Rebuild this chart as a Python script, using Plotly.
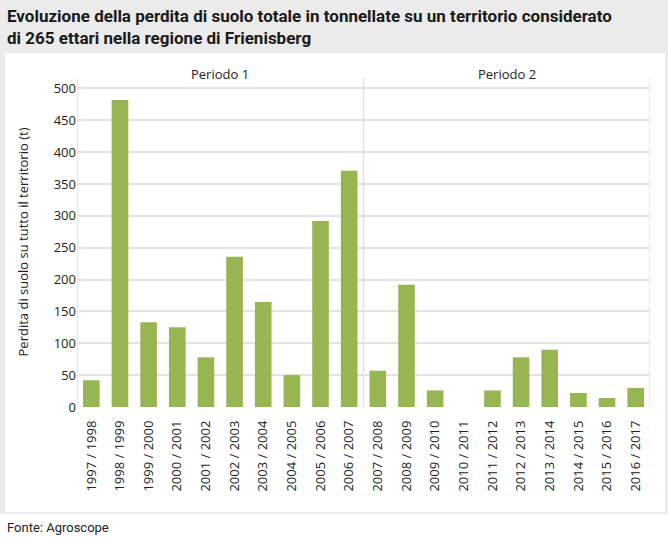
import plotly.graph_objects as go

categories = ["1997 / 1998", "1998 / 1999", "1999 / 2000", "2000 / 2001", "2001 / 2002",
              "2002 / 2003", "2003 / 2004", "2004 / 2005", "2005 / 2006", "2006 / 2007",
              "2007 / 2008", "2008 / 2009", "2009 / 2010", "2010 / 2011", "2011 / 2012",
              "2012 / 2013", "2013 / 2014", "2014 / 2015", "2015 / 2016", "2016 / 2017"]
values = [42, 482, 133, 125, 78, 236, 165, 50, 292, 371,
          57, 192, 26, 0, 26, 78, 90, 22, 14, 30]
period_labels = ["Periodo 1", "Periodo 2"]
y_ticks = [0, 50, 100, 150, 200, 250, 300, 350, 400, 450, 500]

W, H = 668, 541
L, R, T, B = 77, 650, 77, 407


def X(px):
    return (px - L) / (R - L)


def Y(py):
    return (B - py) / (B - T)


font_txt = "Open Sans, DejaVu Sans, sans-serif"
font_cond = "Liberation Sans Narrow, Roboto, Arial Narrow, sans-serif"
grey_line = "#e3e3e3"

fig = go.Figure()
fig.add_trace(go.Bar(x=categories, y=values, marker=dict(color="#97b550", line=dict(width=0)),
                     hoverinfo="x+y"))

shapes = [
    dict(type="rect", xref="paper", yref="paper", x0=X(0), x1=X(W), y0=Y(514), y1=Y(0),
         fillcolor="#ebebeb", line=dict(width=0), layer="below"),
    dict(type="rect", xref="paper", yref="paper", x0=X(5), x1=X(665), y0=Y(512), y1=Y(53),
         fillcolor="#ffffff", line=dict(width=0), layer="below"),
]
for xv in [-0.5, 9.5, 19.5]:
    shapes.append(dict(type="line", xref="x", yref="paper", x0=xv, x1=xv, y0=0, y1=Y(78),
                       line=dict(color=grey_line, width=1.5), layer="below"))

annotations = [
    dict(text="Evoluzione della perdita di suolo totale in tonnellate su un territorio considerato<br>"
              "di 265 ettari nella regione di Frienisberg",
         xref="paper", yref="paper", x=X(5), y=Y(4), xanchor="left", yanchor="top",
         showarrow=False, align="left",
         font=dict(family=font_cond, size=17, color="#1a1a1a", weight="bold")),
    dict(text="Fonte: Agroscope", xref="paper", yref="paper", x=X(5), y=Y(527),
         xanchor="left", yanchor="middle", showarrow=False,
         font=dict(family=font_cond, size=13, color="#222222")),
]
for i, lab in enumerate(period_labels):
    annotations.append(dict(text=lab, xref="x", yref="paper", x=4.5 + 10 * i, y=Y(74),
                            xanchor="center", yanchor="middle", showarrow=False,
                            font=dict(family=font_txt, size=13, color="#222222")))

fig.update_layout(
    width=W, height=H,
    margin=dict(l=L, r=W - R, t=T, b=H - B),
    paper_bgcolor="#ffffff", plot_bgcolor="rgba(0,0,0,0)",
    bargap=0.42, showlegend=False,
    shapes=shapes, annotations=annotations,
    xaxis=dict(type="category", range=[-0.5, 19.5], tickangle=-90, showgrid=False,
               showline=False, ticks="", ticklabelstandoff=10,
               tickfont=dict(family=font_txt, size=13, color="#222222")),
    yaxis=dict(range=[0, 518], tickvals=y_ticks, showgrid=True, gridcolor=grey_line, gridwidth=1.5,
               zeroline=False, showline=False, ticks="",
               tickfont=dict(family=font_txt, size=13, color="#222222"),
               title=dict(text="Perdita di suolo su tutto il territorio (t)", standoff=22,
                          font=dict(family=font_txt, size=13, color="#222222"))),
)

fig.write_html("out.html", config={"displayModeBar": False},
               post_script="document.body.style.margin='0';document.body.style.padding='0';"
                           "document.documentElement.style.overflow='hidden';")
